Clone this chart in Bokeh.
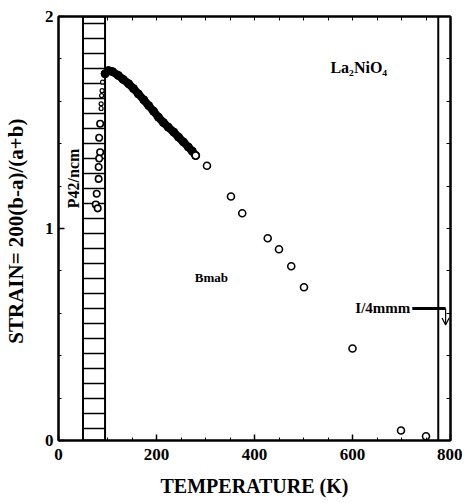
from bokeh.plotting import figure
from bokeh.models import Range1d, LinearAxis, Span, Arrow, OpenHead, FixedTicker, Label
from bokeh.embed import file_html
from bokeh.resources import INLINE

# ---- data ----
# dense measurements (Bmab, low T) -- overlapping circles forming a solid band
dense_T = [95, 102, 110, 122, 132, 143, 153, 163, 174, 184, 194, 204, 214, 224, 235, 245, 255, 265, 273, 280]
dense_S = [1.73, 1.745, 1.74, 1.722, 1.703, 1.683, 1.66, 1.635, 1.607, 1.58, 1.553, 1.525, 1.50, 1.478,
           1.455, 1.431, 1.408, 1.384, 1.365, 1.344]
# sparse measurements (Bmab, high T)
sparse_T = [303, 352, 375, 427, 450, 475, 501, 600, 699, 750]
sparse_S = [1.296, 1.151, 1.072, 0.954, 0.902, 0.822, 0.723, 0.434, 0.047, 0.02]
# measurements inside the P42/ncm region
lowT_T = [85, 83, 85, 83, 82, 82, 78, 76, 80]
lowT_S = [1.494, 1.428, 1.36, 1.33, 1.29, 1.234, 1.164, 1.113, 1.095]
small_T = [90, 89, 88, 87, 87]
small_S = [1.69, 1.65, 1.627, 1.588, 1.566]

# phase boundaries (K)
p42_left, p42_right = 50, 95
i4_boundary = 775

x_ticks = [0, 200, 400, 600, 800]
y_ticks = [0, 1, 2]

FONT = "Liberation Serif"

p = figure(frame_width=392, frame_height=424, min_border_left=58, min_border_right=12,
           min_border_top=16, min_border_bottom=63,
           x_range=Range1d(0, 800), y_range=Range1d(0, 2),
           output_backend="svg", toolbar_location=None)
p.background_fill_color = "white"
p.border_fill_color = "white"
p.xgrid.visible = False
p.ygrid.visible = False
p.outline_line_color = "black"
p.outline_line_width = 2

# axes
for ax in (p.xaxis[0], p.yaxis[0]):
    ax.axis_line_width = 2
    ax.major_tick_in = 6
    ax.major_tick_out = 0
    ax.minor_tick_in = 3
    ax.minor_tick_out = 0
    ax.major_tick_line_width = 1.5
    ax.major_label_text_font = FONT
    ax.major_label_text_font_style = "bold"
    ax.major_label_text_font_size = "17px"
    ax.major_label_text_color = "black"
    ax.axis_label_text_font = FONT
    ax.axis_label_text_font_style = "bold"
    ax.axis_label_text_color = "black"

p.xaxis[0].ticker = FixedTicker(ticks=x_ticks, minor_ticks=list(range(0, 801, 50)))
p.yaxis[0].ticker = FixedTicker(ticks=y_ticks, minor_ticks=[i / 5 for i in range(11)])
p.xaxis[0].axis_label = "TEMPERATURE (K)"
p.xaxis[0].axis_label_text_font_size = "20px"
p.xaxis[0].major_label_standoff = 8
p.xaxis[0].axis_label_standoff = 12
p.yaxis[0].axis_label = "STRAIN=  200(b-a)/(a+b)"
p.yaxis[0].axis_label_text_font_size = "21px"
p.yaxis[0].major_label_standoff = 5
p.yaxis[0].axis_label_standoff = 14

for loc, tk in (("right", FixedTicker(ticks=[i / 5 for i in range(11)])),
                ("above", FixedTicker(ticks=list(range(0, 801, 50))))):
    ax = LinearAxis(ticker=tk, major_label_text_alpha=0, major_label_text_font_size="1px",
                    major_tick_in=4, major_tick_out=0, minor_tick_in=0, minor_tick_out=0,
                    axis_line_width=2, major_label_standoff=0)
    p.add_layout(ax, loc)

# P42/ncm hatched band
p.quad(left=[p42_left], right=[p42_right], bottom=[0], top=[2],
       fill_color=None, line_color="black", line_width=2,
       hatch_pattern="horizontal_line", hatch_scale=15, hatch_weight=1.5, hatch_color="black")

# I4/mmm boundary
p.add_layout(Span(location=i4_boundary, dimension="height", line_color="black", line_width=2))

# data
p.line(dense_T, dense_S, line_color="black", line_width=8, line_join="round", line_cap="round")
p.scatter(dense_T, dense_S, size=8, marker="circle", fill_color="black", line_color="black", line_width=1)
p.scatter(sparse_T, sparse_S, size=7, marker="circle", fill_color="white", line_color="black", line_width=1.6)
p.scatter(lowT_T, lowT_S, size=6.5, marker="circle", fill_color="white", line_color="black", line_width=1.6)
p.scatter(small_T, small_S, size=4, marker="circle", fill_color="white", line_color="black", line_width=1.2)
p.scatter([dense_T[-1]], [dense_S[-1]], size=7, marker="circle", fill_color="white", line_color="black", line_width=1.6)

# labels
lab = dict(text_font=FONT, text_font_style="bold", text_color="black", text_baseline="middle")
p.add_layout(Label(x=555, y=1.76, text="La₂NiO₄", text_font_size="16px", text_align="left", **lab))
p.add_layout(Label(x=312, y=0.77, text="Bmab", text_font_size="13px", text_align="center", **lab))
p.add_layout(Label(x=31, y=1.236, text="P42/ncm", text_font_size="16px", text_align="center",
                   angle=90, angle_units="deg", **lab))
p.add_layout(Label(x=718, y=0.623, text="I/4mmm", text_font_size="15px", text_align="right", **lab))
p.segment(x0=[722], y0=[0.623], x1=[790], y1=[0.623], line_color="black", line_width=3)
p.add_layout(Arrow(x_start=790, y_start=0.623, x_end=790, y_end=0.545,
                   end=OpenHead(size=7, line_width=1.2), line_width=1.2))

open("out.html", "w").write(file_html(p, INLINE))
